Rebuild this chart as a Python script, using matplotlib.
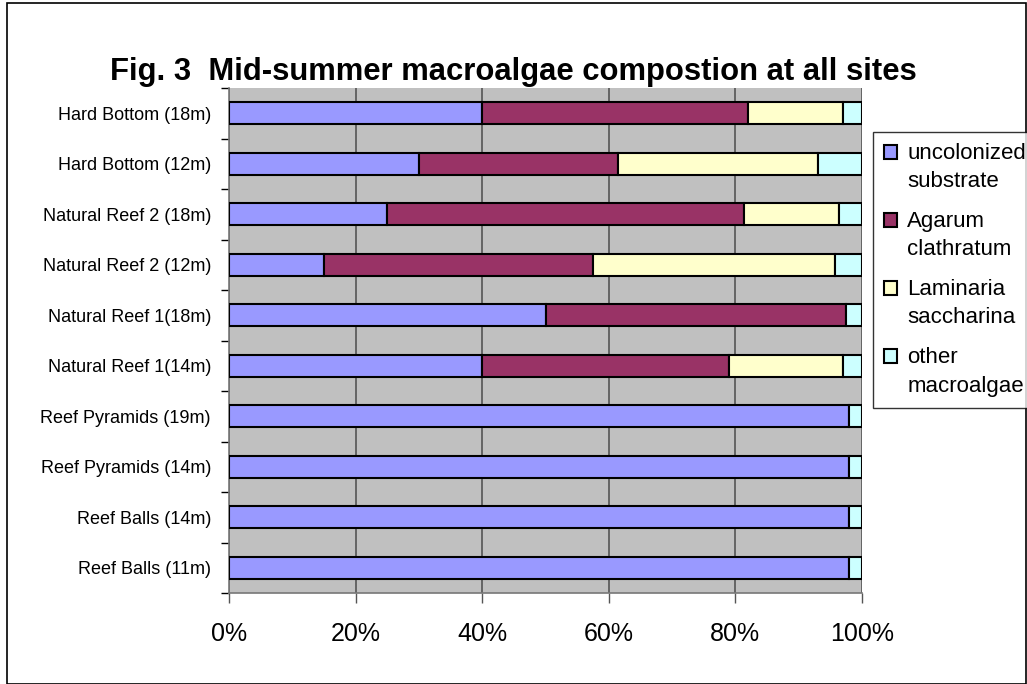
import matplotlib
matplotlib.use("Agg")
import matplotlib.pyplot as plt
from matplotlib.patches import Rectangle
from matplotlib.container import BarContainer
from matplotlib.legend_handler import HandlerPatch
import numpy as np

plt.rcParams['font.family'] = ['Liberation Sans', 'DejaVu Sans']

sites = [
    "Reef Balls (11m)", "Reef Balls (14m)", "Reef Pyramids (14m)",
    "Reef Pyramids (19m)", "Natural Reef 1(14m)", "Natural Reef 1(18m)",
    "Natural Reef 2 (12m)", "Natural Reef 2 (18m)", "Hard Bottom (12m)",
    "Hard Bottom (18m)",
]
uncolonized = [98, 98, 98, 98, 40, 50, 15, 25, 30, 40]
agarum      = [0, 0, 0, 0, 39, 47.5, 42.5, 56.3, 31.5, 42]
laminaria   = [0, 0, 0, 0, 18, 0, 38.2, 15.1, 31.5, 15]
other       = [2, 2, 2, 2, 3, 2.5, 4.3, 3.6, 7, 3]

series_names = ["uncolonized\nsubstrate", "Agarum\nclathratum",
                "Laminaria\nsaccharina", "other\nmacroalgae"]
series_colors = ["#9999FF", "#993366", "#FFFFCC", "#CCFFFF"]
x_ticks = [0, 20, 40, 60, 80, 100]

fig = plt.figure(figsize=(10.27, 6.84), dpi=100)
ax = fig.add_axes([229 / 1027, 1 - 593 / 684, (862 - 229) / 1027, (593 - 88) / 684])

# outer chart border
fig.patches.append(Rectangle((7 / 1027, 0.0), (1026 - 7) / 1027, 1 - 3 / 684,
                             transform=fig.transFigure, fill=False,
                             edgecolor="black", linewidth=1.2))

ax.set_facecolor("#C0C0C0")
y = np.arange(len(sites))
data = np.array([uncolonized, agarum, laminaria, other], dtype=float)
totals = data.sum(axis=0)
pct = data / totals * 100
left = np.zeros(len(sites))
handles = []
for vals, name, col in zip(pct, series_names, series_colors):
    mask = vals > 0
    b = ax.barh(y[mask], vals[mask], left=left[mask], height=0.44,
                color=col, edgecolor="black", linewidth=1.5, zorder=3,
                label=name)
    handles.append(b)
    left += vals

ax.set_xlim(0, 100)
ax.set_ylim(-0.5, len(sites) - 0.5)
ax.set_xticks(x_ticks)
ax.set_xticklabels([f"{t}%" for t in x_ticks], fontsize=18)
ax.xaxis.grid(True, color="#555555", linewidth=1.2, zorder=1)
ax.set_axisbelow(True)
ax.tick_params(axis="x", length=7, width=1, color="#555555", pad=14)

ax.set_yticks(y)
ax.set_yticklabels(sites, fontsize=13)
ax.set_yticks(np.arange(-0.5, len(sites), 1.0), minor=True)
ax.tick_params(axis="y", which="major", length=0, pad=13)
ax.tick_params(axis="y", which="minor", length=6, width=1, color="black")

for side in ["top", "right"]:
    ax.spines[side].set_visible(False)
ax.spines["left"].set_color("#777777")
ax.spines["bottom"].set_color("#777777")
ax.spines["left"].set_linewidth(1.2)
ax.spines["bottom"].set_linewidth(1.2)

fig.text(0.5, 1 - 72 / 684, "Fig. 3  Mid-summer macroalgae compostion at all sites",
         ha="center", va="center", fontsize=22.3, fontweight="bold")


def top_square(legend, orig_handle, xdescent, ydescent, width, height, fontsize):
    # legend key drawn beside the first line of a two-line label
    lift = 0.72 * fontsize
    return Rectangle((-xdescent, -ydescent + lift), width, height)


def first_bar_style(legend_patch, orig_handle):
    legend_patch.update_from(orig_handle[0])


leg_font = 16
leg = fig.legend(handles=handles, loc="upper left",
                 bbox_to_anchor=(873 / 1027, 1 - 132 / 684),
                 fontsize=leg_font, frameon=True, fancybox=False,
                 edgecolor="black", handlelength=0.6, handleheight=0.6,
                 handletextpad=0.45, borderpad=0.5, labelspacing=0.85,
                 borderaxespad=0,
                 handler_map={BarContainer: HandlerPatch(patch_func=top_square,
                                                         update_func=first_bar_style)})
for t in leg.get_texts():
    t.set_linespacing(1.45)
leg.get_frame().set_linewidth(1.0)

fig.savefig("out.png", dpi=100, facecolor="white")
